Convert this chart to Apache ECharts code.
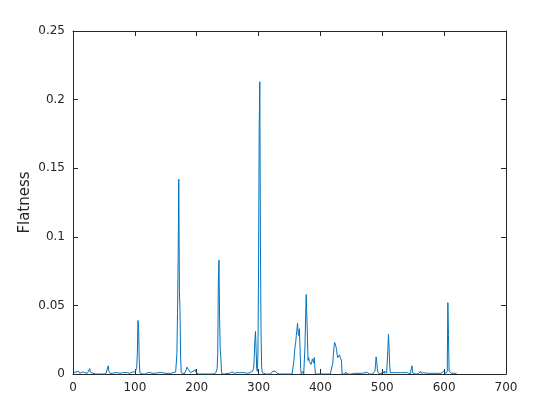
<!DOCTYPE html>
<html>
<head>
<meta charset="utf-8">
<script src="https://cdn.jsdelivr.net/npm/echarts@6/dist/echarts.min.js"></script>
<style>html,body{margin:0;padding:0;background:#fff}#c{width:560px;height:420px}</style>
</head>
<body>
<div id="c"></div>
<script>
var xTicks = [0, 100, 200, 300, 400, 500, 600, 700];
var yTicks = [0, 0.05, 0.1, 0.15, 0.2, 0.25];
var yLabel = 'Flatness';
var flatness = [
0.0010,0.0020,0.0005,0.0010,0.0015,0.0010,0.0005,0.0010,0.0020,0.0010,
0.0005,0.0010,0.0010,0.0005,0.0015,0.0010,0.0010,0.0020,0.0010,0.0005,
0.0010,0.0015,0.0005,0.0010,0.0020,0.0010,0.0040,0.0015,0.0010,0.0005,
0.0010,0.0005,0,0,0,0,0,0,0,0,
0,0,0,0,0,0,0,0,0,0,
0,0,0,0,0,0.0010,0.0060,0.0020,0.0010,0.0005,
0.0010,0.0005,0.0010,0.0005,0,0.0010,0.0005,0.0010,0.0010,0.0005,
0.0005,0.0010,0,0.0005,0.0010,0.0005,0.0010,0.0005,0,0.0010,
0.0005,0.0010,0.0005,0.0010,0.0005,0,0.0005,0.0010,0.0005,0.0010,
0.0010,0.0005,0.0010,0.0005,0.0010,0.0015,0.0010,0.0005,0.0010,0.0015,
0.0010,0.0020,0.0040,0.0150,0.0390,0.0350,0.0120,0.0010,0,0,
0,0,0,0,0,0,0,0,0,0.0005,
0.0010,0.0005,0.0010,0.0005,0.0010,0.0005,0.0010,0.0010,0.0005,0.0010,
0.0005,0.0010,0.0005,0.0010,0.0010,0.0005,0.0010,0.0005,0.0010,0.0005,
0.0010,0.0005,0.0010,0.0005,0.0010,0.0010,0.0005,0.0010,0.0005,0.0010,
0.0005,0.0010,0.0010,0.0005,0.0010,0.0005,0.0010,0.0005,0.0010,0.0010,
0.0005,0.0010,0.0005,0.0010,0.0010,0.0015,0.0020,0.0150,0.0450,0.0850,
0.1420,0.0600,0.0470,0.0120,0.0010,0,0,0,0,0,
0,0.0010,0.0030,0.0050,0.0050,0.0040,0.0030,0.0020,0.0020,0.0010,
0.0010,0.0015,0.0010,0.0020,0.0010,0.0010,0.0020,0.0030,0.0010,0.0005,
0,0,0,0,0,0,0,0,0,0,
0,0,0,0,0,0,0,0,0,0,
0,0,0,0,0,0,0,0,0,0.0005,
0.0010,0.0010,0.0040,0.0150,0.0670,0.0830,0.0400,0.0180,0.0120,0.0020,
0,0,0,0,0,0,0,0,0.0005,0.0010,
0.0005,0.0010,0.0005,0.0010,0.0010,0.0005,0.0015,0.0010,0.0005,0.0010,
0.0005,0.0015,0.0010,0.0005,0.0010,0.0020,0.0010,0.0005,0.0010,0.0015,
0.0010,0.0005,0.0010,0.0020,0.0010,0.0005,0.0010,0.0015,0.0005,0.0010,
0.0010,0.0005,0.0015,0.0010,0.0005,0.0010,0.0020,0.0010,0.0015,0.0020,
0.0020,0.0040,0.0120,0.0250,0.0310,0.0180,0.0040,0.0020,0.0150,0.0800,
0.1800,0.2130,0.0950,0.0300,0.0050,0.0010,0,0,0,0,
0,0,0,0,0,0,0,0,0,0,
0,0.0010,0.0020,0.0025,0.0020,0.0015,0.0020,0.0015,0.0010,0.0005,
0.0005,0,0,0,0,0,0,0,0,0,
0,0,0,0,0,0,0,0,0,0,
0,0,0,0,0,0,0.0090,0.0150,0.0200,0.0230,
0.0280,0.0320,0.0370,0.0300,0.0280,0.0330,0.0200,0.0040,0,0,
0,0.0020,0,0,0.0200,0.0400,0.0580,0.0570,0.0270,0.0100,
0.0120,0.0090,0.0080,0.0100,0.0070,0.0090,0.0110,0.0100,0.0080,0.0120,
0.0050,0,0,0,0,0,0,0,0,0,
0,0,0,0,0,0,0,0,0,0,
0,0,0,0,0,0,0,0,0,0.0080,
0.0150,0.0200,0.0230,0.0220,0.0200,0.0180,0.0140,0.0120,0.0130,0.0110,
0.0140,0.0120,0.0130,0.0100,0,0,0,0,0,0.0005,
0.0015,0.0005,0,0,0,0,0,0,0,0,
0,0,0.0005,0.0010,0.0005,0.0010,0.0005,0.0010,0.0005,0.0010,
0.0005,0.0010,0.0010,0.0005,0.0010,0.0005,0.0010,0.0005,0.0010,0.0010,
0.0005,0.0010,0.0005,0.0010,0.0005,0.0010,0.0005,0.0010,0.0005,0,
0,0,0,0,0,0.0005,0.0010,0.0020,0.0060,0.0125,
0.0090,0.0040,0.0010,0,0,0,0,0,0,0.0005,
0.0020,0.0010,0.0005,0.0020,0.0010,0.0015,0.0005,0.0010,0.0170,0.0290,
0.0190,0.0060,0.0010,0.0005,0.0010,0.0005,0.0010,0.0005,0.0010,0.0005,
0.0010,0.0005,0.0010,0.0005,0.0010,0.0005,0.0010,0.0005,0.0010,0.0005,
0.0010,0.0005,0.0010,0.0005,0.0010,0.0005,0.0010,0.0005,0.0010,0.0005,
0.0010,0.0005,0.0020,0.0005,0,0,0.0010,0.0060,0.0010,0,
0,0,0,0,0,0,0,0,0,0.0005,
0.0010,0.0020,0.0005,0.0010,0.0015,0.0005,0.0010,0.0005,0.0010,0.0020,
0.0005,0.0010,0.0005,0.0010,0.0005,0.0010,0.0005,0.0010,0.0005,0.0010,
0.0005,0.0010,0.0005,0.0010,0.0005,0.0010,0.0005,0.0010,0.0005,0.0010,
0.0005,0.0010,0.0005,0.0010,0.0005,0.0010,0.0005,0.0010,0.0020,0.0010,
0.0020,0.0010,0.0005,0.0010,0.0020,0.0520,0.0280,0.0020,0.0030,0.0020,
0.0010,0.0005,0.0010,0.0005,0.0010,0.0005,0.0010,0.0005,0.0010,0.0005
];

var pts = flatness.map(function (v, i) { return [i + 1, v]; });
var axisColor = '#262626';
var font = 'DejaVu Sans';

function xAx(pos, show) {
  return {
    type: 'value', position: pos, min: xTicks[0], max: xTicks[xTicks.length - 1],
    interval: xTicks[1] - xTicks[0],
    axisLine: { show: true, onZero: false, lineStyle: { color: axisColor, width: 1 } },
    axisTick: { show: true, inside: true, length: 5, lineStyle: { color: axisColor } },
    axisLabel: { show: show, color: axisColor, fontFamily: font, fontSize: 12, margin: 8 },
    splitLine: { show: false }
  };
}
function yAx(pos, show) {
  var o = {
    type: 'value', position: pos, min: yTicks[0], max: yTicks[yTicks.length - 1],
    interval: yTicks[1] - yTicks[0],
    axisLine: { show: true, onZero: false, lineStyle: { color: axisColor, width: 1 } },
    axisTick: { show: true, inside: true, length: 5, lineStyle: { color: axisColor } },
    axisLabel: { show: show, color: axisColor, fontFamily: font, fontSize: 12, margin: 8 },
    splitLine: { show: false }
  };
  if (show) {
    o.name = yLabel;
    o.nameLocation = 'middle';
    o.nameGap = 40;
    o.nameMoveOverlap = false;
    o.nameTextStyle = { color: axisColor, fontFamily: font, fontSize: 15 };
  }
  return o;
}

var chart = echarts.init(document.getElementById('c'), null, { renderer: 'canvas' });
chart.setOption({
  animation: false,
  backgroundColor: '#ffffff',
  grid: { left: 73, right: 54, top: 31, bottom: 46, containLabel: false },
  xAxis: [xAx('bottom', true), xAx('top', false)],
  yAxis: [yAx('left', true), yAx('right', false)],
  series: [{
    type: 'line', data: pts, xAxisIndex: 0, yAxisIndex: 0,
    showSymbol: false, symbol: 'none',
    lineStyle: { color: '#0072BD', width: 1 },
    itemStyle: { color: '#0072BD' }
  }]
});
</script>
</body>
</html>
